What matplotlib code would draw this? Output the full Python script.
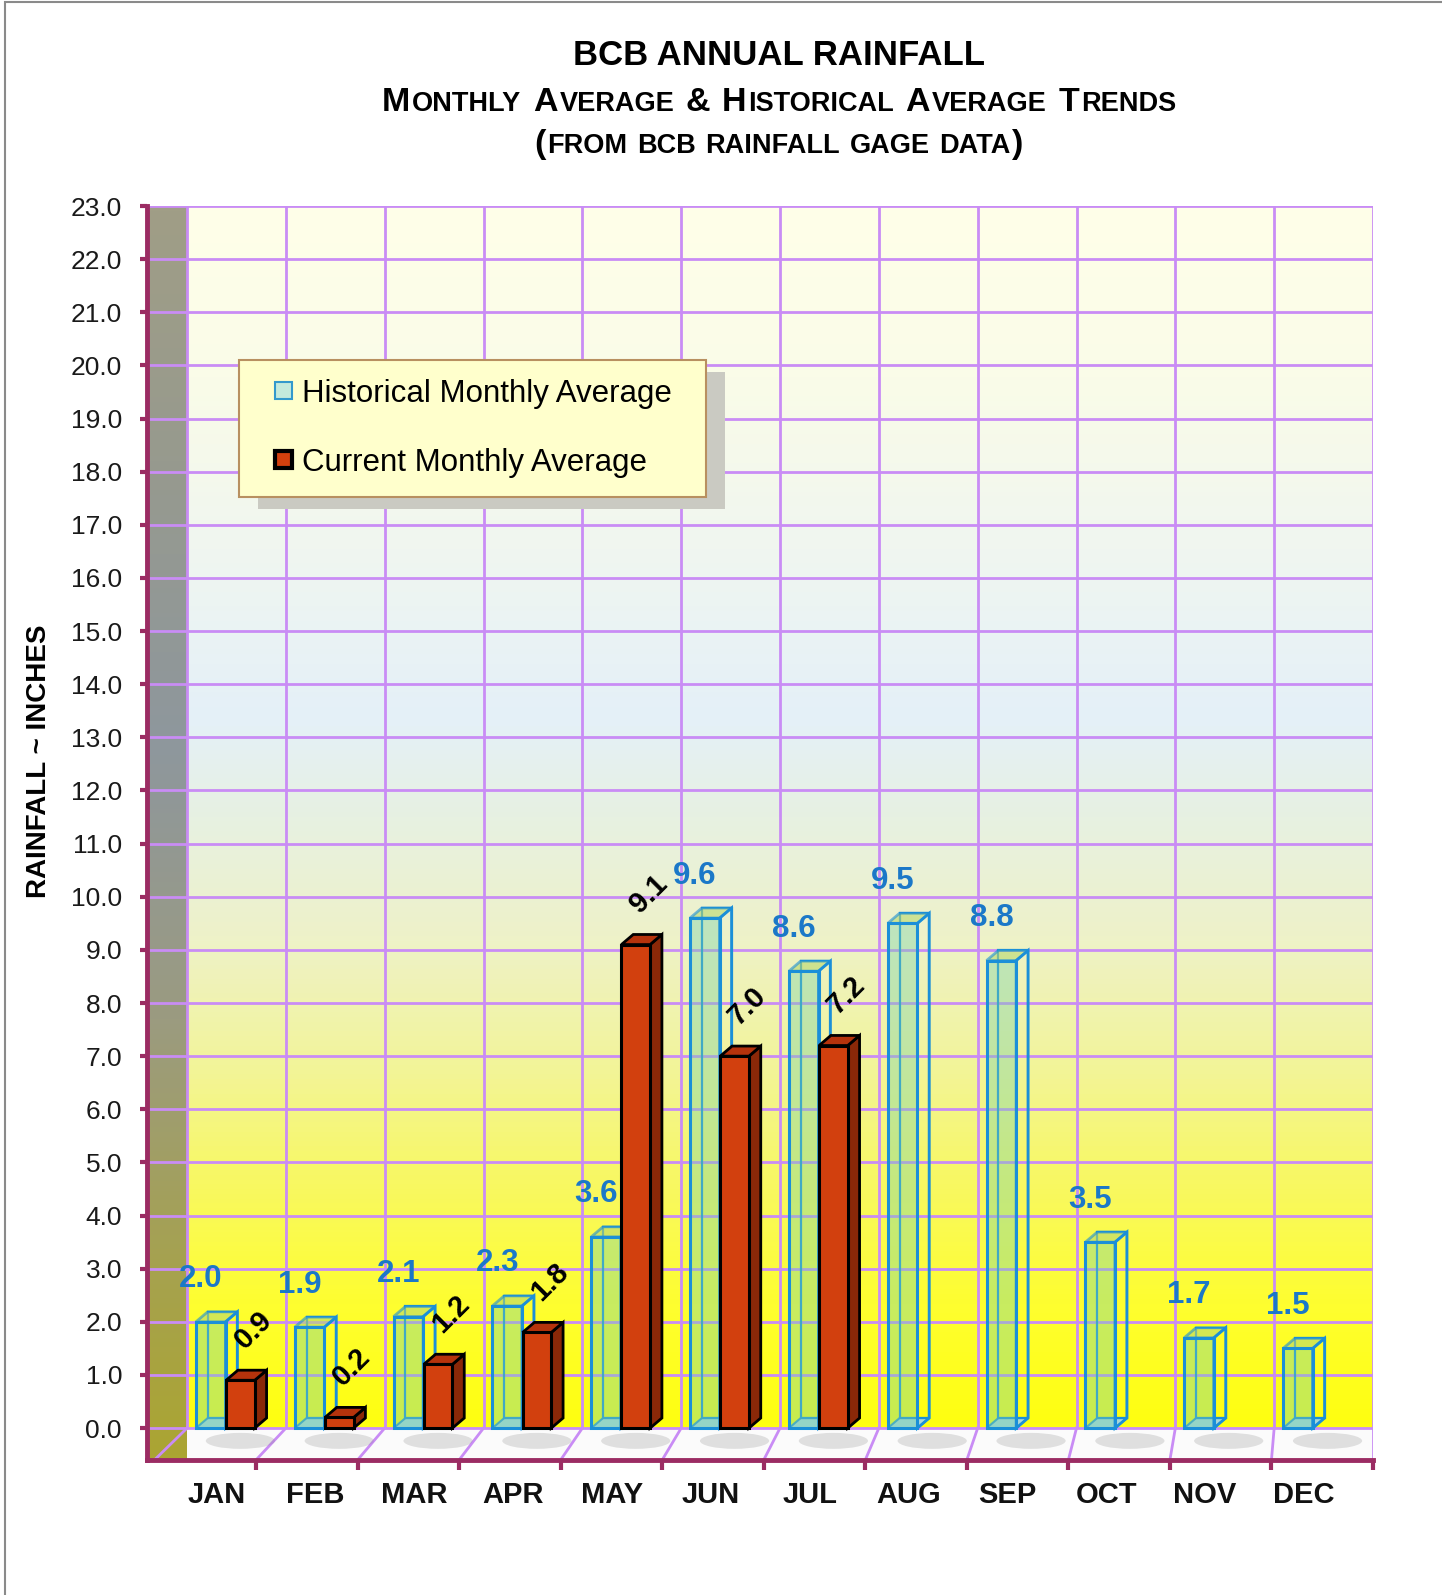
import matplotlib
matplotlib.use("Agg")
import matplotlib.pyplot as plt
import numpy as np
from matplotlib.patches import Polygon, Rectangle, Patch, Ellipse
from matplotlib.colors import LinearSegmentedColormap
from matplotlib.legend_handler import HandlerPatch

# ---- data ----
months = ["JAN", "FEB", "MAR", "APR", "MAY", "JUN",
          "JUL", "AUG", "SEP", "OCT", "NOV", "DEC"]
historical = [2.0, 1.9, 2.1, 2.3, 3.6, 9.6, 8.6, 9.5, 8.8, 3.5, 1.7, 1.5]
current = [0.9, 0.2, 1.2, 1.8, 9.1, 7.0, 7.2]      # JAN..JUL only
y_ticks = list(range(0, 24))
legend_labels = ["Historical Monthly Average", "Current Monthly Average"]

W, H = 1442, 1595
MAROON = "#9B2C63"
GRID = "#C98CF5"
GLASS = "#78D2AA"
GLASS_EDGE = "#1B8FD8"
RED = "#D2400E"
BLUE_TXT = "#1B78C8"
NARROW = ["Liberation Sans Narrow", "Liberation Sans"]

X_LEFT = -0.905     # front edge of the left wall
FLOOR = -0.6        # front edge of the floor
DX, DY = 0.12, 0.19  # bar depth
H_OFF, H_W = -0.26, 0.30
C_OFF, C_W = 0.04, 0.29
LBL_OFF = -0.2

plt.rcParams["font.family"] = ["Liberation Sans", "DejaVu Sans"]

fig = plt.figure(figsize=(W / 100, H / 100), dpi=100)
ax = fig.add_axes([147 / W, (H - 1460) / H, (1373 - 147) / W, (1460 - 206) / H])

# walls and floor
ramp = np.linspace(0, 1, 256).reshape(-1, 1)
wall_cmap = LinearSegmentedColormap.from_list("wall", [
    (0.0, "#FFFF10"), (0.1, "#FEFE30"), (0.2, "#F8F862"), (0.3, "#F2F49C"),
    (0.4, "#EEF2C8"), (0.5, "#E7F1E2"), (0.58, "#E4F0F8"), (0.72, "#F0F6F0"),
    (0.86, "#FAFCE8"), (1.0, "#FFFFE8")])
side_cmap = LinearSegmentedColormap.from_list("side", [
    (0.0, "#ABA532"), (0.15, "#A6A24E"), (0.35, "#9B9B80"), (0.57, "#8E979D"),
    (0.8, "#979A8E"), (1.0, "#A09E86")])
ax.imshow(ramp, extent=(-0.5, 11.5, 0, 23), origin="lower", aspect="auto",
          cmap=wall_cmap, zorder=0)
ax.imshow(ramp, extent=(X_LEFT, -0.5, FLOOR, 23), origin="lower", aspect="auto",
          cmap=side_cmap, zorder=0)
ax.add_patch(Rectangle((-0.5, FLOOR), 12, -FLOOR, fc="#FBFBFB", ec="none", zorder=0.5))

# grid
ax.hlines(y_ticks, X_LEFT, 11.5, colors=GRID, lw=2, zorder=1)
bounds = np.arange(-0.5, 12, 1)
front = bounds - 0.33 * (11.5 - bounds) / 12   # where floor lines meet the front edge
ax.vlines(bounds, 0, 23, colors=GRID, lw=2, zorder=1)
for b, f in zip(bounds, front):
    ax.plot([b, f], [0, FLOOR], color=GRID, lw=2, zorder=1)

x = np.arange(len(months))

# floor shadows
for i in x:
    ax.add_patch(Ellipse((i + H_OFF + 0.3, FLOOR * 0.4), 0.7, 0.3, fc="#8C8C8C",
                         alpha=0.25, ec="none", zorder=1.2))

# historical: glass boxes
for i, v in enumerate(historical):
    x0 = i + H_OFF - H_W / 2
    ax.add_patch(Polygon([(x0, 0), (x0 + DX, DY), (x0 + H_W + DX, DY), (x0 + H_W, 0)],
                         fc="#9FD3F0", ec=GLASS_EDGE, lw=1.5, alpha=0.9, zorder=2))
    ax.add_patch(Rectangle((x0 + DX, DY), H_W, v, fill=False, ec=GLASS_EDGE, lw=1.6, zorder=2))
    ax.add_patch(Rectangle((x0, 0), H_W, v, fc=GLASS, alpha=0.4, ec="none", zorder=2.1))
    ax.add_patch(Polygon([(x0, v), (x0 + DX, v + DY), (x0 + H_W + DX, v + DY), (x0 + H_W, v)],
                         fc="#B8D870", alpha=0.6, ec=GLASS_EDGE, lw=2, zorder=2.2))
    ax.add_patch(Polygon([(x0 + H_W, 0), (x0 + H_W + DX, DY), (x0 + H_W + DX, v + DY), (x0 + H_W, v)],
                         fill=False, ec=GLASS_EDGE, lw=2, zorder=2.2))
    ax.add_patch(Rectangle((x0, 0), H_W, v, fill=False, ec=GLASS_EDGE, lw=2.2, zorder=2.3))
    ax.text(i + H_OFF - 0.1, v + 0.8, f"{v:.1f}", color=BLUE_TXT, fontsize=22.5,
            fontweight="bold", family=NARROW, ha="center", va="center", zorder=6)

# current: solid red boxes
for i, v in enumerate(current):
    x0 = i + C_OFF - C_W / 2
    ax.add_patch(Polygon([(x0 + C_W, 0), (x0 + C_W + DX, DY), (x0 + C_W + DX, v + DY), (x0 + C_W, v)],
                         fc="#8A2808", ec="black", lw=2, zorder=3))
    ax.add_patch(Polygon([(x0, v), (x0 + DX, v + DY), (x0 + C_W + DX, v + DY), (x0 + C_W, v)],
                         fc="#B5330C", ec="black", lw=2, zorder=3))
    ax.add_patch(Rectangle((x0, 0), C_W, v, fc=RED, ec="black", lw=2.2, zorder=3.1))
    ax.text(i + C_OFF + 0.13, v + 0.95, f"{v:.1f}", color="black", fontsize=21,
            fontweight="bold", rotation=45, ha="center", va="center", zorder=6)

# axes
ax.set_xlim(X_LEFT, 11.5)
ax.set_ylim(FLOOR, 23)
for s in ("top", "right"):
    ax.spines[s].set_visible(False)
for s in ("left", "bottom"):
    ax.spines[s].set_color(MAROON)
    ax.spines[s].set_linewidth(3.5)
ax.set_yticks(y_ticks)
ax.set_yticklabels([f"{v:.1f}" for v in y_ticks])
ax.tick_params(axis="y", colors=MAROON, labelcolor="#1A1A1A", length=5, width=3,
               pad=13, labelsize=19)
ax.set_xticks(x + LBL_OFF)
ax.set_xticklabels(months, fontsize=21, fontweight="bold", color="#111111")
ax.tick_params(axis="x", which="major", length=0, pad=15)
ax.set_xticks(front[1:], minor=True)
ax.tick_params(axis="x", which="minor", length=7, width=3, color=MAROON)

fig.text(38.6 / W, 1 - 761 / H, "RAINFALL ~ INCHES", rotation=90, fontsize=20,
         fontweight="bold", ha="center", va="center")

# legend with drop shadow
fig.add_artist(Rectangle((258 / W, 1 - 509 / H), 467 / W, 137 / H,
                         transform=fig.transFigure, fc="#CACAC2", ec="none", zorder=4))


def square_handle(legend, orig_handle, xdescent, ydescent, width, height, fontsize):
    s = 17 * 72 / 100
    return Rectangle((-xdescent + width - s, -ydescent + (height - s) / 2), s, s)


handles = [Patch(fc="#C4EADC", ec="#3399CC", lw=1.5),
           Patch(fc=RED, ec="black", lw=3)]
leg = fig.legend(handles, legend_labels, loc="upper left",
                 bbox_to_anchor=(239 / W, 1 - 497 / H, 467 / W, 137 / H),
                 bbox_transform=fig.transFigure, mode="expand", borderaxespad=0,
                 fontsize=22.5, frameon=True, fancybox=False, framealpha=1,
                 facecolor="#FFFFCC", edgecolor="#B89060", borderpad=0.6,
                 labelspacing=1.25, handlelength=1.1, handleheight=0.7,
                 handletextpad=0.3,
                 handler_map={Patch: HandlerPatch(patch_func=square_handle)})
leg.get_frame().set_linewidth(1.5)
leg.set_zorder(5)

# title with small caps
renderer = fig.canvas.get_renderer()


def caps_line(y_base, parts, xc):
    texts, gaps = [], []
    for s, fs, gap in parts:
        texts.append(fig.text(0, 1 - y_base / H, s, fontsize=fs, fontweight="bold",
                              ha="left", va="baseline"))
        gaps.append(gap)
    widths = [t.get_window_extent(renderer).width for t in texts]
    total = sum(widths) + sum(gaps[:-1])
    pos = xc - total / 2
    for t, w, g in zip(texts, widths, gaps):
        t.set_x(pos / W)
        pos += w + g


BIG, SMALL = 24.5, 19.5
g1 = 0.278 * BIG * 100 / 72 + 2
g2 = 0.278 * SMALL * 100 / 72 + 2
caps_line(65, [("BCB ANNUAL RAINFALL", 25, 0)], 779)
caps_line(111, [("M", BIG, 2), ("ONTHLY", SMALL, g1), ("A", BIG, 2), ("VERAGE", SMALL, g1),
                ("&", BIG, g1), ("H", BIG, 2), ("ISTORICAL", SMALL, g1), ("A", BIG, 2),
                ("VERAGE", SMALL, g1), ("T", BIG, 2), ("RENDS", SMALL, 0)], 779)
caps_line(153, [("(", BIG, 2), ("FROM", SMALL, g2), ("BCB", SMALL, g2), ("RAINFALL", SMALL, g2),
                ("GAGE", SMALL, g2), ("DATA", SMALL, 2), (")", BIG, 0)], 779)

# outer chart border
fig.add_artist(Rectangle((5 / W, -0.05), 1.1, 1.05 - 2 / H, transform=fig.transFigure,
                         fill=False, ec="#8A8A8A", lw=1.5, zorder=0))

fig.savefig("out.png", dpi=100)
